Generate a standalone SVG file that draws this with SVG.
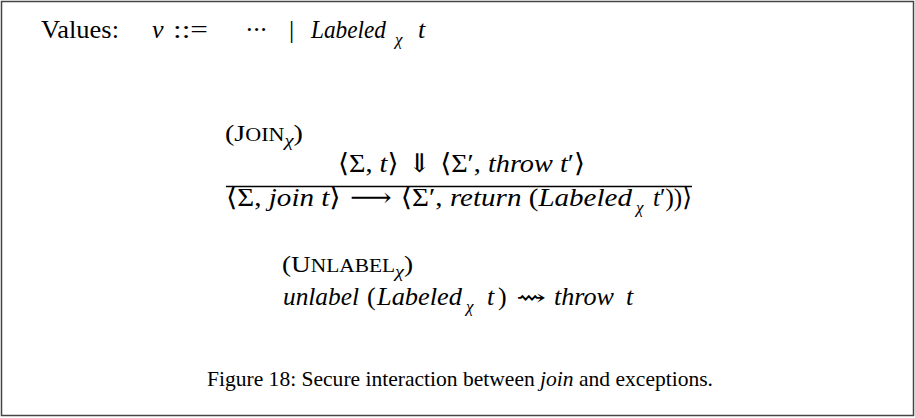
<svg xmlns="http://www.w3.org/2000/svg" width="915" height="418" viewBox="0 0 915 418">
<style>
.t{font-family:"Liberation Serif","Times New Roman",serif;fill:#000}
.i{font-style:italic}
.sym{font-family:"DejaVu Serif","Liberation Serif",serif}
.sub{font-size:17px}
</style>
<rect x="1.5" y="1.5" width="912" height="414" fill="#fff" stroke="#444" stroke-width="1.5"/>
<g id="values">
<text class="t" x="41" y="38" font-size="26" textLength="78" lengthAdjust="spacingAndGlyphs">Values:</text>
<text class="t i" x="152" y="38" font-size="26">v</text>
<text class="t" x="173" y="38" font-size="26" textLength="35" lengthAdjust="spacingAndGlyphs">::=</text>
<text class="t" x="245" y="38" font-size="26" textLength="23" lengthAdjust="spacing">···</text>
<text class="t" x="289" y="38" font-size="26">|</text>
<text class="t i" x="311" y="38" font-size="26" textLength="75" lengthAdjust="spacingAndGlyphs">Labeled</text>
<text class="t i sub" x="395" y="45">χ</text>
<text class="t i" x="418" y="38" font-size="26">t</text>
</g>
<g id="rule-join">
<text class="t" x="225" y="141" font-size="23" textLength="78" lengthAdjust="spacingAndGlyphs">(J<tspan font-size="18">OIN</tspan><tspan class="i sub" dy="5">χ</tspan><tspan dy="-5">)</tspan></text>
<text class="t" x="338" y="172" font-size="26" textLength="247" lengthAdjust="spacingAndGlyphs"><tspan class="sym">⟨</tspan>Σ, <tspan class="i">t</tspan><tspan class="sym">⟩ ⇓ ⟨</tspan>Σ′, <tspan class="i">throw t</tspan>′<tspan class="sym">⟩</tspan></text>
<line x1="226" y1="186.5" x2="692" y2="186.5" stroke="#000" stroke-width="1.3"/>
<text class="t" x="226" y="206" font-size="26" textLength="406" lengthAdjust="spacingAndGlyphs"><tspan class="sym">⟨</tspan>Σ, <tspan class="i">join t</tspan><tspan class="sym">⟩ ⟶ ⟨</tspan>Σ′, <tspan class="i">return</tspan> (<tspan class="i">Labeled</tspan></text>
<text class="t i sub" x="636" y="213">χ</text>
<text class="t" x="653" y="206" font-size="26" textLength="39" lengthAdjust="spacingAndGlyphs"><tspan class="i">t</tspan>′))<tspan class="sym">⟩</tspan></text>
</g>
<g id="rule-unlabel">
<text class="t" x="282" y="272" font-size="23" textLength="131" lengthAdjust="spacingAndGlyphs">(U<tspan font-size="18">NLABEL</tspan><tspan class="i sub" dy="5">χ</tspan><tspan dy="-5">)</tspan></text>
<text class="t i" x="283" y="305" font-size="26" textLength="76" lengthAdjust="spacingAndGlyphs">unlabel</text>
<text class="t" x="367" y="305" font-size="26">(</text>
<text class="t i" x="377" y="305" font-size="26" textLength="85" lengthAdjust="spacingAndGlyphs">Labeled</text>
<text class="t i sub" x="466" y="312">χ</text>
<text class="t i" x="487" y="305" font-size="26">t</text>
<text class="t" x="498" y="305" font-size="26">)</text>
<text class="t sym" x="516" y="305" font-size="22" textLength="30" lengthAdjust="spacingAndGlyphs">⇝</text>
<text class="t i" x="554" y="305" font-size="26" textLength="60" lengthAdjust="spacingAndGlyphs">throw</text>
<text class="t i" x="626" y="305" font-size="26">t</text>
</g>
<g id="caption">
<text class="t" x="207" y="386" font-size="21.5" textLength="506" lengthAdjust="spacingAndGlyphs">Figure 18: Secure interaction between <tspan class="i">join</tspan> and exceptions.</text>
</g>
</svg>
